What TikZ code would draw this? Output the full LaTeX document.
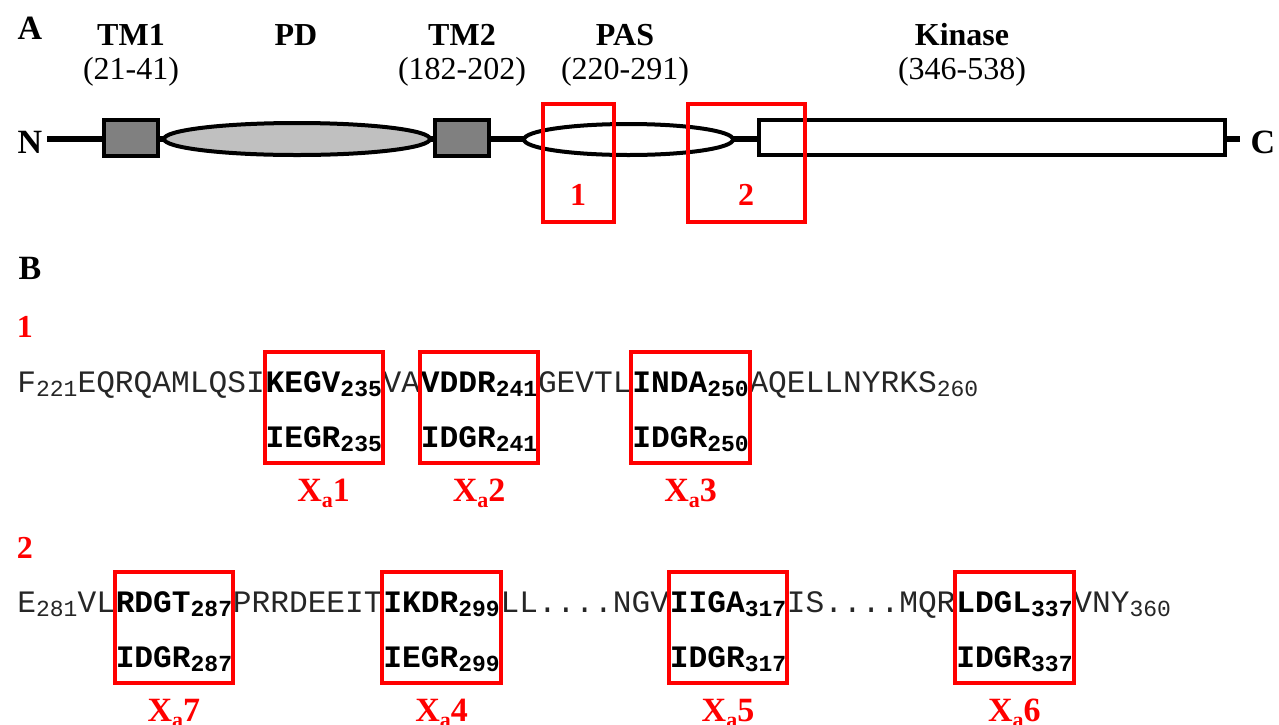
\documentclass[tikz,border=0pt]{standalone}
\usepackage{fontspec}
\setmainfont{Liberation Serif}
\newfontfamily\seqfont{Liberation Mono}
\usetikzlibrary{fit,shapes.geometric}
\newcommand\sbn[1]{\raisebox{-2.2pt}{\fontsize{11.5}{12}\selectfont #1}}
\newcommand\xsub[1]{X\raisebox{-3pt}{\fontsize{11}{12}\selectfont a}#1}
\definecolor{tmgray}{HTML}{808080}
\definecolor{pdgray}{HTML}{C0C0C0}
\tikzset{
  panel/.style={font=\bfseries\fontsize{17}{19}\selectfont, inner sep=0pt},
  term/.style={font=\bfseries\fontsize{17}{19}\selectfont, inner sep=0pt},
  domname/.style={font=\bfseries\fontsize{16}{18}\selectfont, inner sep=0pt},
  domrange/.style={font=\fontsize{16}{18}\selectfont, inner sep=0pt},
  backbone/.style={line width=3.2pt},
  tmbox/.style={draw, fill=tmgray, line width=2.3pt, inner sep=0pt, minimum width=27pt, minimum height=18pt},
  domell/.style={draw, ellipse, line width=2pt, inner sep=0pt},
  kinbox/.style={draw, fill=white, line width=2.3pt, inner sep=0pt, minimum width=233pt, minimum height=17.5pt},
  redbox/.style={draw=red, line width=2pt, inner sep=0pt},
  rednum/.style={font=\bfseries\fontsize{16}{18}\selectfont, text=red, inner sep=0pt},
  seq/.style={font=\seqfont\fontsize{15.6}{18}\selectfont, text=black!85, inner sep=0pt, anchor=base west},
  seqb/.style={seq, font=\seqfont\bfseries\fontsize{15.6}{18}\selectfont, text=black},
  xlab/.style={font=\bfseries\fontsize{17}{19}\selectfont, text=red, inner sep=0pt},
}
\begin{document}
\begin{tikzpicture}[x=0.5pt,y=-0.5pt]
  \useasboundingbox (0,0) rectangle (1279,724);
  % A: domain map
  \node[panel] (pA) at (30,28) {A};
  \node[term] (nt) at (30,142) {N};
  \node[term] (ct) at (1263,142) {C};
  \coordinate (bbL) at (47,139);
  \coordinate (bbR) at (1240,139);
  \draw[backbone] (bbL) -- (bbR);
  \node[tmbox] (tmA) at (131,138) {};
  \node[domell, fill=pdgray, minimum width=133pt, minimum height=16pt] (pd) at (297,139) {};
  \node[tmbox] (tmB) at (462,138) {};
  \node[domell, fill=white, minimum width=104.5pt, minimum height=15.5pt] (pas) at (628.5,139.5) {};
  \node[kinbox] (kin) at (992,137.5) {};
  \node[domname] (tmAn) at (131,35) {TM1};
  \node[domrange] (tmAr) at (131,72) {(21-41)};
  \node[domname] (pdn) at (296,35) {PD};
  \node[domname] (tmBn) at (462,35) {TM2};
  \node[domrange] (tmBr) at (462,72) {(182-202)};
  \node[domname] (pasn) at (625,35) {PAS};
  \node[domrange] (pasr) at (625,72) {(220-291)};
  \node[domname] (kinn) at (962,35) {Kinase};
  \node[domrange] (kinr) at (962,72) {(346-538)};
  \node[redbox, minimum width=35.5pt, minimum height=59pt] (rA) at (578.5,163) {};
  \node[redbox, minimum width=58.5pt, minimum height=59pt] (rB) at (746.5,163) {};
  \node[rednum] (rAn) at (578,195) {1};
  \node[rednum] (rBn) at (746,195) {2};
  % B: sequences
  \node[panel] (pB) at (30,268) {B};
  \node[rednum] (g1) at (25,327) {1};
  \node[rednum] (g2) at (25,548) {2};
  % region 1
  \node[seq] (a0) at (17,392) {F\sbn{221}EQRQAMLQSI};
  \node[seqb] (a1) at (a0.base east) {KEGV\sbn{235}};
  \node[seq] (a2) at (a1.base east) {VA};
  \node[seqb] (a3) at (a2.base east) {VDDR\sbn{241}};
  \node[seq] (a4) at (a3.base east) {GEVTL};
  \node[seqb] (a5) at (a4.base east) {INDA\sbn{250}};
  \node[seq] (a6) at (a5.base east) {AQELLNYRKS\sbn{260}};
  \node[seqb] (b1) at ([yshift=-27.5pt]a1.base west) {IEGR\sbn{235}};
  \node[seqb] (b3) at ([yshift=-27.5pt]a3.base west) {IDGR\sbn{241}};
  \node[seqb] (b5) at ([yshift=-27.5pt]a5.base west) {IDGR\sbn{250}};
  \coordinate (t1) at ([shift={(-0.3pt,20pt)}]a1.base west);
  \coordinate (u1) at ([shift={(0.3pt,-8pt)}]b1.base east);
  \coordinate (t3) at ([shift={(-0.3pt,20pt)}]a3.base west);
  \coordinate (u3) at ([shift={(0.3pt,-8pt)}]b3.base east);
  \coordinate (t5) at ([shift={(-0.3pt,20pt)}]a5.base west);
  \coordinate (u5) at ([shift={(0.3pt,-8pt)}]b5.base east);
  \node[redbox, fit=(t1)(u1)] (bx1) {};
  \node[redbox, fit=(t3)(u3)] (bx2) {};
  \node[redbox, fit=(t5)(u5)] (bx3) {};
  \node[xlab] (l1) at ([yshift=-14pt]bx1.south) {\xsub{1}};
  \node[xlab] (l2) at ([yshift=-14pt]bx2.south) {\xsub{2}};
  \node[xlab] (l3) at ([yshift=-14pt]bx3.south) {\xsub{3}};
  % region 2
  \node[seq] (c0) at (17,612) {E\sbn{281}VL};
  \node[seqb] (c1) at (c0.base east) {RDGT\sbn{287}};
  \node[seq] (c2) at (c1.base east) {PRRDEEIT};
  \node[seqb] (c3) at (c2.base east) {IKDR\sbn{299}};
  \node[seq] (c4) at (c3.base east) {LL....NGV};
  \node[seqb] (c5) at (c4.base east) {IIGA\sbn{317}};
  \node[seq] (c6) at (c5.base east) {IS....MQR};
  \node[seqb] (c7) at (c6.base east) {LDGL\sbn{337}};
  \node[seq] (c8) at (c7.base east) {VNY\sbn{360}};
  \node[seqb] (d1) at ([yshift=-27.5pt]c1.base west) {IDGR\sbn{287}};
  \node[seqb] (d3) at ([yshift=-27.5pt]c3.base west) {IEGR\sbn{299}};
  \node[seqb] (d5) at ([yshift=-27.5pt]c5.base west) {IDGR\sbn{317}};
  \node[seqb] (d7) at ([yshift=-27.5pt]c7.base west) {IDGR\sbn{337}};
  \coordinate (v1) at ([shift={(-0.3pt,20pt)}]c1.base west);
  \coordinate (w1) at ([shift={(0.3pt,-8pt)}]d1.base east);
  \coordinate (v3) at ([shift={(-0.3pt,20pt)}]c3.base west);
  \coordinate (w3) at ([shift={(0.3pt,-8pt)}]d3.base east);
  \coordinate (v5) at ([shift={(-0.3pt,20pt)}]c5.base west);
  \coordinate (w5) at ([shift={(0.3pt,-8pt)}]d5.base east);
  \coordinate (v7) at ([shift={(-0.3pt,20pt)}]c7.base west);
  \coordinate (w7) at ([shift={(0.3pt,-8pt)}]d7.base east);
  \node[redbox, fit=(v1)(w1)] (bx7) {};
  \node[redbox, fit=(v3)(w3)] (bx4) {};
  \node[redbox, fit=(v5)(w5)] (bx5) {};
  \node[redbox, fit=(v7)(w7)] (bx6) {};
  \node[xlab] (l7) at ([yshift=-14pt]bx7.south) {\xsub{7}};
  \node[xlab] (l4) at ([yshift=-14pt]bx4.south) {\xsub{4}};
  \node[xlab] (l5) at ([yshift=-14pt]bx5.south) {\xsub{5}};
  \node[xlab] (l6) at ([yshift=-14pt]bx6.south) {\xsub{6}};
\end{tikzpicture}
\end{document}
